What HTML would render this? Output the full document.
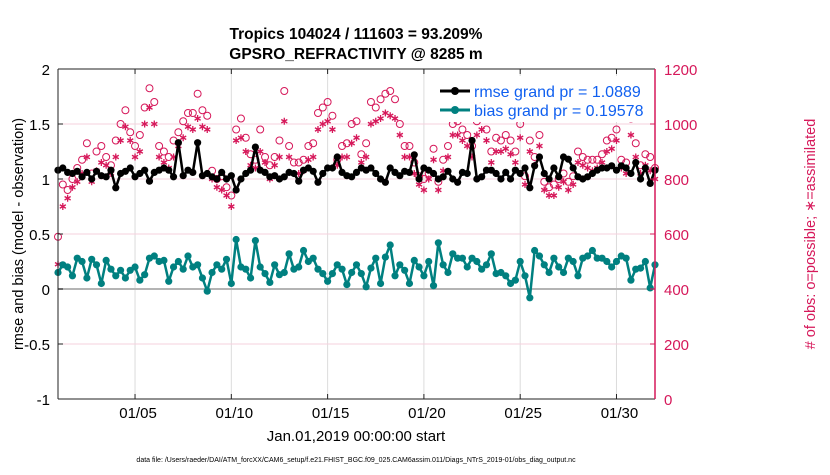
<!DOCTYPE html>
<html><head><meta charset="utf-8"><style>
body{margin:0;background:#fff;width:830px;height:470px;overflow:hidden}
svg text{font-family:"Liberation Sans",Arial,sans-serif}
</style></head><body>
<svg id="chart" width="830" height="470" xmlns="http://www.w3.org/2000/svg">
<g id="grid"></g>
<g id="marks"></g>
<g id="axes"></g>
<text x="356" y="39" text-anchor="middle" font-size="15.5" font-weight="bold">Tropics 104024 / 111603 = 93.209%</text>
<text x="356" y="59" text-anchor="middle" font-size="15.5" font-weight="bold">GPSRO_REFRACTIVITY @ 8285 m</text>
<text transform="translate(23,234) rotate(-90)" text-anchor="middle" font-size="14.5">rmse and bias (model - observation)</text>
<text transform="translate(815,234) rotate(-90)" text-anchor="middle" font-size="14.5" fill="#d6185a"># of obs: o=possible; ∗=assimilated</text>
<text x="356" y="441" text-anchor="middle" font-size="15">Jan.01,2019 00:00:00 start</text>
<text x="356" y="462" text-anchor="middle" font-size="7">data file: /Users/raeder/DAI/ATM_forcXX/CAM6_setup/f.e21.FHIST_BGC.f09_025.CAM6assim.011/Diags_NTrS_2019-01/obs_diag_output.nc</text>
<g>
<rect x="434" y="76" width="218" height="46" fill="#fff"/>
<line x1="440" y1="91" x2="470" y2="91" stroke="#000" stroke-width="3"/><circle cx="455" cy="91" r="4" fill="#000"/>
<text x="474" y="97" font-size="16" fill="#1060f0">rmse grand pr = 1.0889</text>
<line x1="440" y1="110" x2="470" y2="110" stroke="#008080" stroke-width="3"/><circle cx="455" cy="110" r="4" fill="#008080"/>
<text x="474" y="116" font-size="16" fill="#1060f0">bias grand pr = 0.19578</text>
</g>
</svg>
<script>
const rmse=[1.08,1.1,1.06,1.05,1.07,1.02,1.06,1.0,1.07,1.03,1.02,1.08,0.92,1.05,1.07,1.1,1.02,1.05,1.08,0.98,1.06,1.08,1.1,1.08,1.02,1.33,1.03,1.08,1.06,1.33,1.03,1.05,1.02,1.0,1.06,1.0,1.03,0.9,1.0,1.05,1.08,1.29,1.08,1.06,1.02,1.03,1.0,1.02,1.06,1.05,0.98,1.08,1.1,1.07,0.97,1.05,1.1,1.1,1.2,1.06,1.03,1.02,1.06,1.1,1.08,1.1,1.05,1.0,0.97,1.1,1.06,1.03,1.07,1.06,1.22,1.0,1.1,1.08,1.05,1.0,1.02,1.07,1.0,0.97,1.06,1.05,1.35,1.0,1.02,1.08,1.08,1.05,1.0,1.06,1.0,1.08,1.05,1.1,0.92,1.12,1.2,1.05,1.0,1.1,1.02,1.2,1.18,1.1,1.02,1.0,1.02,1.05,1.08,1.1,1.1,1.12,1.08,1.12,1.1,1.05,1.15,1.0,1.1,0.96,1.08];
const bias=[0.15,0.22,0.2,0.12,0.28,0.25,0.1,0.27,0.22,0.05,0.26,0.18,0.12,0.17,0.1,0.17,0.2,0.08,0.13,0.28,0.3,0.25,0.26,0.07,0.2,0.25,0.18,0.3,0.2,0.22,0.1,-0.02,0.15,0.22,0.18,0.27,0.05,0.45,0.2,0.18,0.1,0.44,0.2,0.14,0.06,0.22,0.13,0.15,0.32,0.18,0.2,0.35,0.25,0.28,0.18,0.14,0.07,0.14,0.22,0.18,0.04,0.15,0.22,0.14,0.02,0.19,0.28,0.05,0.29,0.4,0.12,0.22,0.17,0.05,0.26,0.2,0.12,0.25,0.03,0.42,0.22,0.15,0.32,0.28,0.28,0.2,0.28,0.25,0.18,0.22,0.32,0.14,0.15,0.12,0.05,0.08,0.25,0.12,-0.08,0.35,0.3,0.22,0.15,0.28,0.2,0.15,0.28,0.25,0.12,0.28,0.3,0.35,0.28,0.28,0.25,0.2,0.25,0.3,0.28,0.08,0.18,0.19,0.25,0.01,0.22];
const possible=[590,780,760,800,840,870,930,820,900,920,880,850,940,1000,1050,970,920,960,1060,1130,1080,920,900,880,940,970,1010,1040,1040,1110,1050,1030,830,800,810,770,740,980,1020,950,890,870,980,880,850,880,940,1120,920,860,860,870,920,930,1040,1060,1080,1030,870,920,930,1000,1010,890,930,1080,1060,1090,1110,1120,1090,1000,920,920,860,810,800,820,910,790,870,920,1000,1010,980,960,920,1010,1050,980,900,950,940,960,940,900,1000,810,940,880,960,790,770,780,800,820,790,810,900,880,870,870,870,890,940,950,980,870,860,1020,930,850,890,880,840];
const assimilated=[490,700,730,770,790,820,880,790,830,860,850,820,880,940,990,940,880,900,1000,1060,1000,880,860,840,880,920,950,990,980,1020,990,980,800,770,760,740,700,940,950,900,850,840,900,860,800,850,880,1010,880,820,820,830,870,880,980,1000,1010,980,850,880,880,930,950,860,880,1000,1010,1020,1040,1030,1020,960,880,880,820,780,760,800,870,760,830,880,960,960,940,920,880,960,980,940,860,900,900,910,890,860,950,780,900,850,920,760,740,740,770,790,760,780,860,850,840,830,840,860,900,910,940,840,820,960,880,820,850,830,800];
const yTicks=[-1,-0.5,0,0.5,1,1.5,2];
const y2Ticks=[0,200,400,600,800,1000,1200];
const xTickDays=[4,9,14,19,24,29];
const xTickLabels=["01/05","01/10","01/15","01/20","01/25","01/30"];
const NS="http://www.w3.org/2000/svg";
const L=58,R=655,T=69,B=399;
const x=d=>L+d*(R-L)/31;
const y=v=>B-(v+1)*(B-T)/3;
const y2=v=>B-v*(B-T)/1200;
function el(tag,attrs,parent){const e=document.createElementNS(NS,tag);for(const k in attrs)e.setAttribute(k,attrs[k]);parent.appendChild(e);return e;}
const grid=document.getElementById('grid'),marks=document.getElementById('marks'),axes=document.getElementById('axes');
el('rect',{x:L,y:T,width:R-L,height:B-T,fill:'#fff'},grid);
xTickDays.forEach((d,i)=>{
 el('line',{x1:x(d),y1:T,x2:x(d),y2:B,stroke:'#dcdcdc','stroke-width':1},grid);
 el('line',{x1:x(d),y1:B,x2:x(d),y2:B-5,stroke:'#222'},axes);
 el('line',{x1:x(d),y1:T,x2:x(d),y2:T+5,stroke:'#222'},axes);
 const t=el('text',{x:x(d)+3,y:B+19,'text-anchor':'middle','font-size':15},axes);t.textContent=xTickLabels[i];
 
 
});
y2Ticks.forEach(v=>{
 if(v>0&&v<1200)el('line',{x1:L,y1:y2(v),x2:R,y2:y2(v),stroke:'#f6d0de','stroke-width':1},grid);
 el('line',{x1:R,y1:y2(v),x2:R-5,y2:y2(v),stroke:'#d6185a'},axes);
 const t=el('text',{x:R+9,y:y2(v)+6,'font-size':15,fill:'#d6185a'},axes);t.textContent=v;
 
 
});
yTicks.forEach(v=>{
 el('line',{x1:L,y1:y(v),x2:L+5,y2:y(v),stroke:'#222'},axes);
 const t=el('text',{x:L-8,y:y(v)+6,'text-anchor':'end','font-size':15},axes);t.textContent=v;
 
 
});
el('line',{x1:L,y1:y(0),x2:R,y2:y(0),stroke:'#b4b4b4','stroke-width':2},grid);
function star(cx,cy,g){const r=3.5,p=[];for(let k=0;k<3;k++){const a=Math.PI/2+k*Math.PI/3;p.push(`M${cx-r*Math.cos(a)},${cy-r*Math.sin(a)}L${cx+r*Math.cos(a)},${cy+r*Math.sin(a)}`);}
 const s=el('path',{d:p.join(''),stroke:'#d6185a','stroke-width':1.3},g);
 
 }
const gp=el('g',{},marks);


possible.forEach((v,i)=>{const c=el('circle',{cx:x(i*0.25),cy:y2(v),r:3.5,fill:'none',stroke:'#d6185a','stroke-width':1},gp);
 
 });
const ga=el('g',{},marks);


assimilated.forEach((v,i)=>star(x(i*0.25),y2(v),ga));
function series(data,color,name){
 const g=el('g',{},marks);
 
 
 const pl=el('polyline',{points:data.map((v,i)=>x(i*0.25)+','+y(v)).join(' '),fill:'none',stroke:color,'stroke-width':2.5,'stroke-linejoin':'round'},g);
 
 
 data.forEach((v,i)=>{const c=el('circle',{cx:x(i*0.25),cy:y(v),r:3.6,fill:color},g);
  
  });
}
series(rmse,'#000','rmse-series');
series(bias,'#008080','bias-series');
el('line',{x1:L,y1:T,x2:R,y2:T,stroke:'#222'},axes);
el('line',{x1:L,y1:B,x2:R,y2:B,stroke:'#222'},axes);
el('line',{x1:L,y1:T,x2:L,y2:B,stroke:'#222'},axes);
el('line',{x1:R,y1:T,x2:R,y2:B,stroke:'#d6185a','stroke-width':1.5},axes);
</script>
</body></html>
